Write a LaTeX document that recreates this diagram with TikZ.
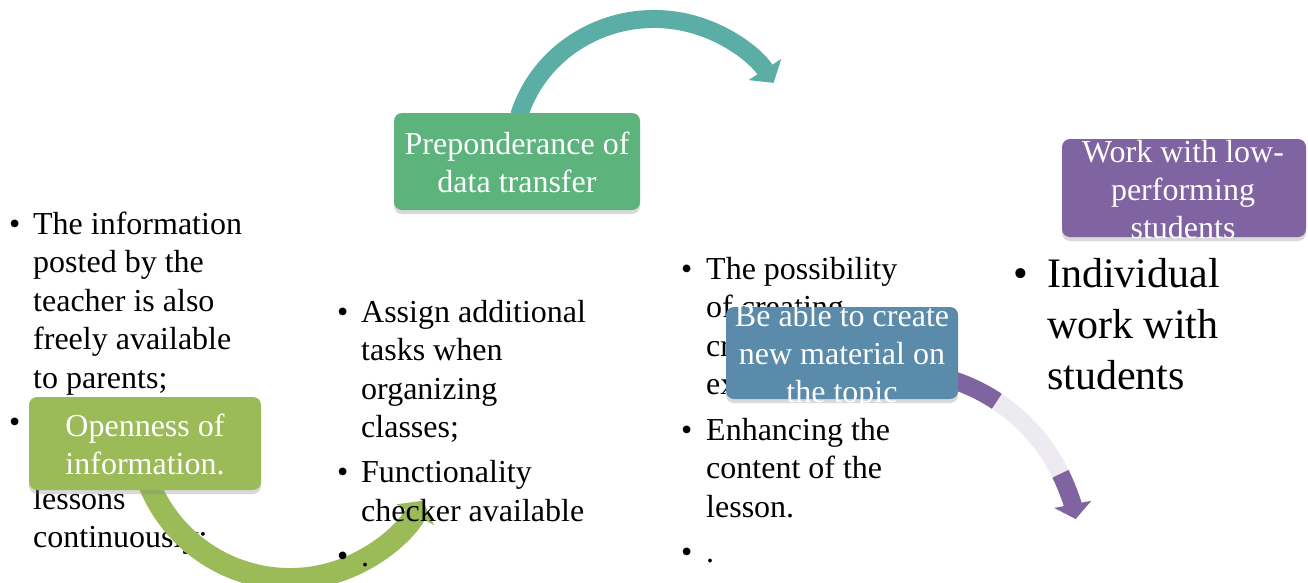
\documentclass[tikz,border=0pt]{standalone}
\usepackage{fontspec}
\setmainfont{Liberation Serif}
\usetikzlibrary{arrows.meta,shadows,calc}
\definecolor{tealarrow}{HTML}{5BAEA5}
\definecolor{gbox}{HTML}{5CB47C}
\definecolor{lgreen}{HTML}{9BBB59}
\definecolor{bluebox}{HTML}{5B8BAB}
\definecolor{purp}{HTML}{8064A2}
\definecolor{lav}{HTML}{EDEAF2}
\begin{document}
\begin{tikzpicture}[x=1pt,y=1pt,
  boxshape/.style={rounded corners=8pt, inner sep=0pt, draw=none,
    drop shadow={opacity=0.3,shadow xshift=0pt,shadow yshift=-4pt}},
  boxtext/.style={text=white, align=center, inner sep=0pt,
    font=\fontsize{32}{38}\selectfont},
  lst/.style={anchor=north west, inner sep=0pt,
    font=\fontsize{32}{38.5}\selectfont},
  biglst/.style={anchor=north west, inner sep=0pt,
    font=\fontsize{42}{51}\selectfont},
  arc/.style={line width=18pt},
]
\useasboundingbox (0,0) rectangle (1308,-582);

% ---------- bullet lists (below the arcs) ----------
\node[lst] (list1) at (9,-207) {\begin{tabular}{@{}p{24pt}@{}l@{}}
\textbullet & The information\\
 & posted by the\\
 & teacher is also\\
 & freely available\\
 & to parents;\\[5.5pt]
\textbullet & \\
 & \\
 & lessons\\
 & continuously;
\end{tabular}};

\node[lst] (list3) at (681,-252) {\begin{tabular}{@{}p{25pt}@{}l@{}}
\textbullet & The possibility\\
 & of creating\\
 & creative\\
 & exercises;\\[7pt]
\textbullet & Enhancing the\\
 & content of the\\
 & lesson.\\[7pt]
\textbullet & .
\end{tabular}};

\node[biglst] (list4) at (1013,-252) {\begin{tabular}{@{}p{34pt}@{}l@{}}
\textbullet & Individual\\
 & work with\\
 & students
\end{tabular}};

% ---------- arcs ----------
\coordinate (tc) at (654,-155);
\coordinate (t0) at ($(tc)+({141*cos(163)},{136*sin(163)})$);
\draw[arc, tealarrow, -{Triangle[width=38pt,length=16pt]}]
  (t0) arc[start angle=163, end angle=32, x radius=141, y radius=136];

\coordinate (gc) at (290,-427);
\coordinate (g0) at ($(gc)+(200:152)$);
\draw[arc, line width=22pt, lgreen, -{Triangle[width=42pt,length=16pt]}]
  (g0) arc[start angle=200, end angle=331, radius=152];

\coordinate (pc) at (896,-554);
\coordinate (p0) at ($(pc)+(76:183)$);
\coordinate (p1) at ($(pc)+(56.5:183)$);
\coordinate (p2) at ($(pc)+(26:183)$);
\draw[arc, purp] (p0) arc[start angle=76, end angle=56.5, radius=183];
\draw[arc, lav] (p1) arc[start angle=56.5, end angle=26, radius=183];
\draw[arc, purp, -{Triangle[width=37pt,length=15pt]}]
  (p2) arc[start angle=26, end angle=11, radius=183];

% ---------- middle list (above the green arc) ----------
\node[lst] (list2) at (337,-295) {\begin{tabular}{@{}p{24pt}@{}l@{}}
\textbullet & Assign additional\\
 & tasks when\\
 & organizing\\
 & classes;\\[6.5pt]
\textbullet & Functionality\\
 & checker available\\[6.5pt]
\textbullet & .
\end{tabular}};

% ---------- boxes ----------
\node[boxshape, fill=gbox, minimum width=246pt, minimum height=97pt] (b1) at (517,-161.5) {};
\node[boxtext] (b1t) at (517,-162) {Preponderance of\\data transfer};

\node[boxshape, fill=lgreen, minimum width=232pt, minimum height=93pt] (b2) at (145,-443.5) {};
\node[boxtext] (b2t) at (145,-444) {Openness of\\information.};

\node[boxshape, fill=bluebox, minimum width=232pt, minimum height=92pt] (b3) at (842,-353) {};
\node[boxtext] (b3t) at (842,-357) {Be able to create\\new material on\\the topic};

\node[boxshape, fill=purp, minimum width=244pt, minimum height=98pt] (b4) at (1184,-188) {};
\node[boxtext] (b4t) at (1183,-190) {Work with low-\\performing\\students};
\end{tikzpicture}
\end{document}
